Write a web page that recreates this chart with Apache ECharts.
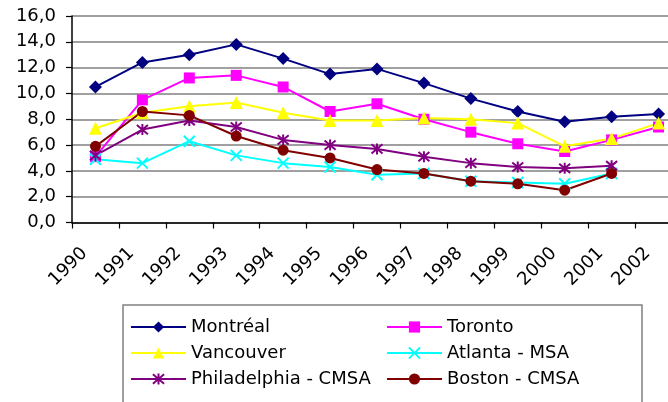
<!DOCTYPE html>
<html>
<head>
<meta charset="utf-8">
<script src="https://cdn.jsdelivr.net/npm/echarts@6/dist/echarts.min.js"></script>
<style>
  html, body { margin: 0; padding: 0; background: #ffffff; }
  #chart { width: 668px; height: 402px; }
</style>
</head>
<body>
<div id="chart"></div>
<script>
// Years on the horizontal axis
const years = ['1990', '1991', '1992', '1993', '1994', '1995', '1996', '1997', '1998', '1999', '2000', '2001', '2002'];

// Values per metropolitan area (null = no figure for that year)
const montreal     = [10.5, 12.4, 13.0, 13.8, 12.7, 11.5, 11.9, 10.8, 9.6, 8.6, 7.8, 8.2, 8.4];
const toronto      = [5.1, 9.5, 11.2, 11.4, 10.5, 8.6, 9.2, 8.0, 7.0, 6.1, 5.5, 6.4, 7.4];
const vancouver    = [7.3, 8.5, 9.0, 9.3, 8.5, 7.9, 7.9, 8.1, 8.0, 7.7, 5.9, 6.5, 7.7];
const atlanta      = [4.9, 4.6, 6.3, 5.2, 4.6, 4.3, 3.7, 3.8, 3.2, 3.1, 3.0, 3.8, null];
const philadelphia = [5.2, 7.2, 7.9, 7.4, 6.4, 6.0, 5.7, 5.1, 4.6, 4.3, 4.2, 4.4, null];
const boston       = [5.9, 8.6, 8.3, 6.7, 5.6, 5.0, 4.1, 3.8, 3.2, 3.0, 2.5, 3.8, null];

// Y axis ticks
const yMin = 0, yMax = 16, yStep = 2;

const FONT = 'DejaVu Sans';
const X_MARK = 'path://M0,0L10,10M10,0L0,10';
const STAR_MARK = 'path://M0,0L10,10M10,0L0,10M5,-1L5,11';

function lineSeries(name, data, color, symbol, size, stroked) {
  return {
    name: name,
    type: 'line',
    data: data,
    xAxisIndex: 0,
    yAxisIndex: 0,
    symbol: symbol,
    symbolSize: size,
    showAllSymbol: true,
    connectNulls: false,
    lineStyle: { color: color, width: 2 },
    itemStyle: stroked
      ? { color: 'none', borderColor: color, borderWidth: 2 }
      : { color: color, borderWidth: 0 },
    emphasis: { disabled: true }
  };
}

const chart = echarts.init(document.getElementById('chart'), null, { renderer: 'canvas' });

chart.setOption({
  animation: false,
  backgroundColor: '#ffffff',
  textStyle: { fontFamily: FONT, color: '#000000' },
  grid: [
    // plot area
    { left: 72, top: 16, width: 610, height: 206.5, containLabel: false, outerBoundsMode: 'none' },
    // carrier for the slanted year labels: bottom edge sits below the plot, shifted left
    { left: 61, top: 30, width: 610, height: 206.5, containLabel: false, outerBoundsMode: 'none' }
  ],
  xAxis: [
    {
      gridIndex: 0,
      type: 'category',
      data: years,
      boundaryGap: true,
      axisLine: { lineStyle: { color: '#000000', width: 1.5 } },
      axisTick: { show: true, inside: false, length: 6, alignWithLabel: false, lineStyle: { color: '#000000', width: 1.2 } },
      axisLabel: { show: false },
      splitLine: { show: false }
    },
    {
      gridIndex: 1,
      type: 'category',
      data: years,
      boundaryGap: true,
      axisLine: { show: false },
      axisTick: { show: false },
      axisLabel: {
        interval: 0,
        rotate: 45,
        margin: 14,
        fontSize: 18,
        fontFamily: FONT,
        color: '#000000'
      },
      splitLine: { show: false }
    }
  ],
  yAxis: [
    {
      gridIndex: 0,
      type: 'value',
      min: yMin,
      max: yMax,
      interval: yStep,
      axisLine: { show: true, lineStyle: { color: '#000000', width: 1.5 } },
      axisTick: { show: true, inside: false, length: 6, lineStyle: { color: '#000000', width: 1.2 } },
      axisLabel: {
        margin: 16,
        fontSize: 18,
        fontFamily: FONT,
        color: '#000000',
        formatter: function (v) { return v.toFixed(1).replace('.', ','); }
      },
      splitLine: { show: true, lineStyle: { color: '#808080', width: 1.5 } }
    },
    {
      gridIndex: 1,
      type: 'value',
      min: yMin,
      max: yMax,
      interval: yStep,
      show: false
    }
  ],
  legend: {
    left: 123,
    top: 305,
    width: 512,
    orient: 'horizontal',
    padding: [9, 0, 30, 7],
    itemGap: 0,
    itemWidth: 55,
    itemHeight: 14,
    borderColor: '#808080',
    borderWidth: 1.5,
    backgroundColor: '#ffffff',
    textStyle: { fontFamily: FONT, fontSize: 18, color: '#000000', width: 195, lineHeight: 26 },
    data: ['Montréal', 'Toronto', 'Vancouver', 'Atlanta - MSA', 'Philadelphia - CMSA', 'Boston - CMSA']
  },
  series: [
    lineSeries('Montréal', montreal, '#000080', 'diamond', 13, false),
    lineSeries('Toronto', toronto, '#FF00FF', 'rect', 11, false),
    lineSeries('Vancouver', vancouver, '#FFFF00', 'triangle', 13, false),
    lineSeries('Atlanta - MSA', atlanta, '#00FFFF', X_MARK, 11, true),
    lineSeries('Philadelphia - CMSA', philadelphia, '#800080', STAR_MARK, 11, true),
    lineSeries('Boston - CMSA', boston, '#800000', 'circle', 11, false)
  ]
});
</script>
</body>
</html>
